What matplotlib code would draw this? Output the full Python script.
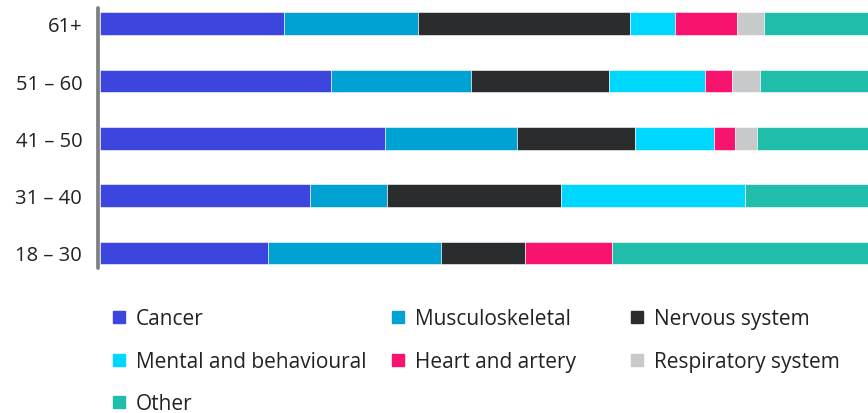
import matplotlib.pyplot as plt
from matplotlib.patches import Rectangle

# Share of cases by condition, per age band (percent of each band)
age_groups = ["61+", "51 – 60", "41 – 50", "31 – 40", "18 – 30"]
categories = ["Cancer", "Musculoskeletal", "Nervous system",
              "Mental and behavioural", "Heart and artery",
              "Respiratory system", "Other"]
cancer = [24.0, 30.1, 37.1, 27.3, 21.9]
musculoskeletal = [17.4, 18.2, 17.2, 10.1, 22.5]
nervous = [27.6, 18.0, 15.3, 22.6, 11.0]
mental = [5.9, 12.5, 10.4, 24.0, 0.0]
heart = [8.0, 3.5, 2.7, 0.0, 11.3]
respiratory = [3.6, 3.6, 2.8, 0.0, 0.0]
other = [13.5, 14.1, 14.5, 16.0, 33.3]

series = [cancer, musculoskeletal, nervous, mental, heart, respiratory, other]
colors = ["#3C46DE", "#00A1D3", "#2B2C2E", "#00D7FF",
          "#F8136F", "#C8C9CB", "#20BEAA"]

plt.rcParams['font.family'] = ['Open Sans', 'DejaVu Sans']

W, H = 868, 414
fig = plt.figure(figsize=(W / 100, H / 100), dpi=100)
ax = fig.add_axes([100 / W, (H - 269) / H, 1 - 100 / W, 260 / H])

# spine position first: moving it resets the tick labels
for side in ["top", "right", "bottom"]:
    ax.spines[side].set_visible(False)
ax.spines["left"].set_position(("outward", 1.8))
ax.spines["left"].set_linewidth(2.7)
ax.spines["left"].set_color("#808080")
ax.spines["left"].set_capstyle("round")

y = list(range(len(age_groups)))
left = [0.0] * len(age_groups)
for vals, col, name in zip(series, colors, categories):
    ax.barh(y, vals, left=left, height=0.4, color=col, label=name,
            edgecolor="white", linewidth=0.4)
    left = [l + v for l, v in zip(left, vals)]

ax.set_xlim(0, 100)
ax.set_ylim(4.262, -0.274)
ax.set_yticks(y)
ax.set_yticklabels(age_groups, fontsize=14.5, color="#222222")
ax.tick_params(axis="y", length=0, pad=11)
ax.set_xticks([])

# legend laid out as a 3-column grid below the bars
col_x = [113, 392, 631]
row_y = [318, 361, 403]
for i, (name, col) in enumerate(zip(categories, colors)):
    cx = col_x[i % 3]
    cy = row_y[i // 3]
    fig.patches.append(Rectangle((cx / W, 1 - (cy + 6) / H), 12 / W, 12 / H,
                                 transform=fig.transFigure, color=col))
    fig.text((cx + 23) / W, 1 - (cy + 2) / H, name, fontsize=15,
             color="#222222", va="center", ha="left")

fig.savefig("out.png", dpi=100)
